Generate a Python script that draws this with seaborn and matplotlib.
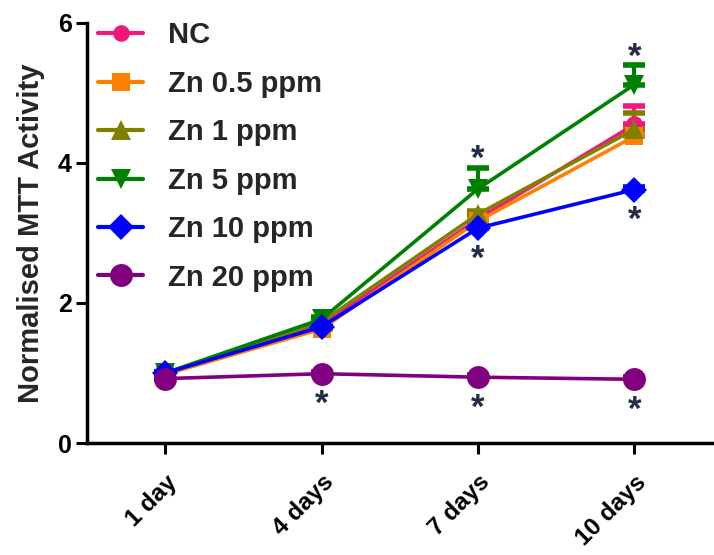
import numpy as np
import pandas as pd
import matplotlib
matplotlib.use("Agg")
import matplotlib.pyplot as plt
import seaborn as sns
from matplotlib.lines import Line2D

days = ["1 day", "4 days", "7 days", "10 days"]
groups = ["NC", "Zn 0.5 ppm", "Zn 1 ppm", "Zn 5 ppm", "Zn 10 ppm", "Zn 20 ppm"]
nc = [1.00, 1.68, 3.20, 4.55]
zn05 = [0.98, 1.63, 3.17, 4.38]
zn1 = [1.00, 1.73, 3.27, 4.48]
zn5 = [1.00, 1.77, 3.63, 5.12]
zn10 = [1.00, 1.66, 3.07, 3.62]
zn20 = [0.92, 0.99, 0.94, 0.91]
# upper error (SD) values
err_nc = [0.02, 0.03, 0.05, 0.27]
err_zn05 = [0.02, 0.03, 0.05, 0.05]
err_zn1 = [0.02, 0.03, 0.05, 0.24]
err_zn5 = [0.02, 0.03, 0.30, 0.28]
err_zn10 = [0.02, 0.03, 0.03, 0.03]
err_zn20 = [0.02, 0.03, 0.03, 0.03]
# significance marks: (group, day index, 'above'/'below')
sig = [("Zn 20 ppm", 1, "below"), ("Zn 5 ppm", 2, "above"), ("Zn 10 ppm", 2, "below"),
       ("Zn 20 ppm", 2, "below"), ("Zn 5 ppm", 3, "above"), ("Zn 10 ppm", 3, "below"),
       ("Zn 20 ppm", 3, "below")]

values = [nc, zn05, zn1, zn5, zn10, zn20]
errs = [err_nc, err_zn05, err_zn1, err_zn5, err_zn10, err_zn20]
colors = ["#F0187F", "#FF7F00", "#808000", "#008000", "#0000FF", "#800080"]
markers = ["o", "s", "^", "v", "D", "o"]
msizes = [12, 13, 14, 14, 13, 16.5]

rows = []
for g, vals in zip(groups, values):
    for i, v in enumerate(vals):
        rows.append({"day": i, "group": g, "value": v})
df = pd.DataFrame(rows)

sns.set_style("ticks")
plt.rcParams["font.family"] = ["Liberation Sans", "DejaVu Sans"]
plt.rcParams["font.weight"] = "bold"

fig = plt.figure(figsize=(7.14, 5.55), dpi=100)
ax = fig.add_axes([0.122, 0.2018, 0.876, 0.7568])

# error bars (upper only) drawn below lines/markers
for g, vals, e, c in zip(groups, values, errs, colors):
    eb = ax.errorbar(range(len(days)), vals, yerr=[np.zeros(len(e)), e], fmt="none",
                     ecolor=c, elinewidth=3, capsize=8, capthick=4, zorder=1)
    for cap in eb[1]:
        cap.set_solid_capstyle("round")

pal = dict(zip(groups, colors))
mk = dict(zip(groups, markers))
sns.lineplot(data=df, x="day", y="value", hue="group", style="group",
             hue_order=groups, style_order=groups, palette=pal, markers=mk,
             dashes=False, linewidth=2.6, markeredgewidth=0, ax=ax, zorder=3,
             legend=False)
for line, s in zip(ax.get_lines()[-len(groups):], msizes):
    line.set_markersize(s)

# significance asterisks
gidx = {g: k for k, g in enumerate(groups)}
for g, i, pos in sig:
    k = gidx[g]
    if pos == "above":
        y = values[k][i] + errs[k][i]
        off = -1
    else:
        y = values[k][i]
        off = -29
    ax.annotate("*", (i, y), xytext=(0, off), textcoords="offset points",
                ha="center", va="baseline", fontsize=25, color="#262C45")

ax.set_xlim(-0.5, 3.5)
ax.set_ylim(0, 6)
ax.set_yticks([0, 2, 4, 6])
ax.set_xticks(range(len(days)))
ax.set_xticklabels(days, rotation=45, ha="right", rotation_mode="anchor",
                   fontsize=17.5, fontweight="bold")
for t in ax.get_yticklabels():
    t.set_fontsize(18)
    t.set_fontweight("bold")
ax.set_xlabel("")
ax.set_ylabel("Normalised MTT Activity", fontsize=21, fontweight="bold", labelpad=9)
ax.tick_params(axis="both", direction="out", length=8, width=2.2, colors="black", pad=3)
ax.tick_params(axis="x", pad=12)
sns.despine(ax=ax)
for s in ["left", "bottom"]:
    ax.spines[s].set_linewidth(2.5)
    ax.spines[s].set_color("black")

handles = [Line2D([0], [0], color=c, marker=m, markersize=s, linewidth=3, markeredgewidth=0)
           for c, m, s in zip(colors, markers, msizes)]
ax.legend(handles, groups, loc="upper left", bbox_to_anchor=(0.0, 1.03), frameon=False,
          prop={"size": 21, "weight": "bold"}, handlelength=1.55, handletextpad=0.85,
          labelspacing=0.7, borderaxespad=0.0, borderpad=0.38)

fig.savefig("out.png", dpi=100)
